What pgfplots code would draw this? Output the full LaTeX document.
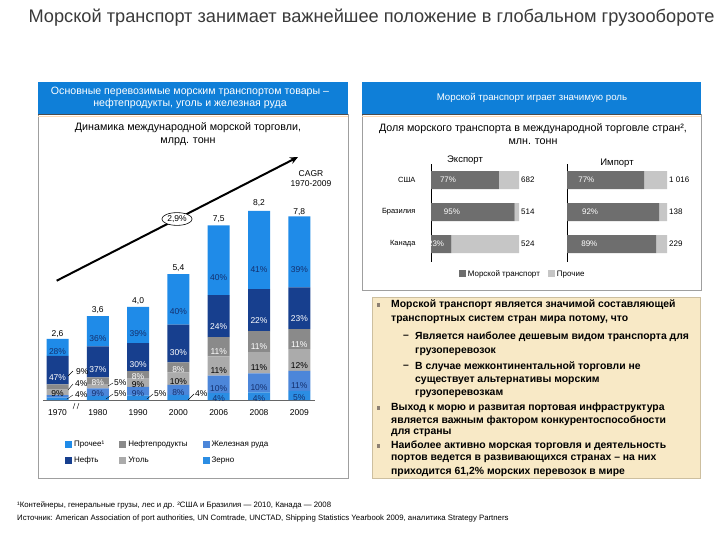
\documentclass[border=0pt]{standalone}
\usepackage{fontspec}
\setmainfont{Liberation Sans}
\usepackage{pgfplots}
\pgfplotsset{compat=1.18}
\usepackage{pgfplotstable}
\usetikzlibrary{arrows.meta,shapes.geometric}

\definecolor{hdrblue}{HTML}{0F7FD8}
\definecolor{cOther}{HTML}{1F8BE8}
\definecolor{cOil}{HTML}{173F8E}
\definecolor{cOilp}{HTML}{8A8A8A}
\definecolor{cCoal}{HTML}{ABABAB}
\definecolor{cIron}{HTML}{4C86D9}
\definecolor{cGrain}{HTML}{2B8DE3}
\definecolor{lblnavy}{HTML}{14306E}
\definecolor{seagray}{HTML}{6E6E6E}
\definecolor{othgray}{HTML}{C6C6C6}
\definecolor{beige}{HTML}{F8E9C6}
\definecolor{beigeborder}{HTML}{CDBF9F}
\definecolor{titlegray}{HTML}{3A3A3A}

\pgfplotsset{/pgf/number format/assume math mode=true}

% shares in %, totals in bn t
\pgfplotstableread{
x tot grain iron coal oilp oil other
0 2.6 4 4 9 9 47 28
1 3.6 5 9 5 8 37 36
2 4.0 5 9 9 8 30 39
3 5.4 4 8 10 8 30 40
4 7.5 4 10 11 11 24 40
5 8.2 4 10 11 11 22 41
6 7.8 5 11 12 11 23 39
}\tradedata

\pgfplotstableread{
y sea other tot
2 77 23 682
1 95 5 514
0 23 77 524
}\exportdata

\pgfplotstableread{
y sea other tot
2 77 23 1016
1 92 8 138
0 89 11 229
}\importdata

% the shift below ends up applied twice by nodes near coords, hence 0.25 for half a segment
\pgfplotsset{
  % column, fill, label colour, min. segment height for an inside label
  seg/.style n args={4}{
    fill=#2, draw=none,
    visualization depends on={\thisrow{#1} \as \pct},
    visualization depends on={\thisrow{tot}*\thisrow{#1}*0.233 \as \segpx},
    nodes near coords={\ifdim\segpx pt<#4pt\else\pgfmathprintnumber[fixed,precision=0]{\pct}\%\fi},
    every node near coord/.style={anchor=center, text=#3,
      yshift=-0.25*\segpx pt, inner sep=0pt, font=\fontsize{8.5bp}{9bp}\selectfont},
  },
  sq legend/.style={legend image code/.code={\fill[##1] (0bp,-3.5bp) rectangle (7bp,3.5bp);}},
  % bp per percent
  hseg/.style={
    fill=seagray, draw=none,
    visualization depends on={\thisrow{sea} \as \pct},
    visualization depends on={\thisrow{sea}*#1*0.25 \as \hsh},
    nodes near coords={\pgfmathprintnumber[fixed,precision=0]{\pct}\%},
    every node near coord/.style={anchor=center, text=white,
      xshift=-\hsh pt, font=\fontsize{8bp}{9bp}\selectfont},
  },
  totlabel/.style={draw=none, mark=none, point meta=\thisrow{tot}},
}

\begin{document}
\begin{tikzpicture}[x=1bp,y=-1bp]
\fill[white] (0,0) rectangle (720,540);

% title
\node[text=titlegray, font=\fontsize{18.2bp}{20bp}\selectfont] at (371.5,18)
  {Морской транспорт занимает важнейшее положение в глобальном грузообороте};

% panels
\draw[gray!75, line width=0.7bp] (38,114) rectangle (348,478);
\draw[gray!75, line width=0.7bp] (362,114) rectangle (701,290);
\fill[hdrblue] (38,82) rectangle (348,114);
\fill[hdrblue] (362,82) rectangle (701,114);
\draw[black!70, line width=0.8bp] (38,114) -- (348,114);
\draw[black!70, line width=0.8bp] (362,114) -- (701,114);
\draw[orange!30, line width=0.8bp] (38,116) -- (348,116);
\draw[orange!30, line width=0.8bp] (362,116) -- (701,116);
\node[text=white, align=center, font=\fontsize{10.6bp}{12.5bp}\selectfont] at (190,98)
  {Основные перевозимые морским транспортом товары --\\нефтепродукты, уголь и железная руда};
\node[text=white, font=\fontsize{9.7bp}{11bp}\selectfont] at (532,98)
  {Морской транспорт играет значимую роль};
\node[align=center, font=\fontsize{10.7bp}{13bp}\selectfont] at (188,134.5)
  {Динамика международной морской торговли,\\млрд. тонн};
\node[align=center, font=\fontsize{10.7bp}{13bp}\selectfont] at (533,134.5)
  {Доля морского транспорта в международной торговле стран²,\\млн. тонн};

% left: stacked bars
\begin{axis}[
  at={(43.4bp,-400bp)}, anchor=south west,
  x=40.3bp, y=23.3bp,
  xmin=-0.35, xmax=6.4, ymin=0, ymax=9,
  ybar stacked, bar width=22bp,
  axis x line*=bottom, axis y line=none,
  x axis line style={draw=black!60, line width=0.6bp},
  xtick={0,...,6}, xticklabels={1970,1980,1990,2000,2006,2008,2009},
  major tick length=0pt,
  xticklabel style={font=\fontsize{8.5bp}{9bp}\selectfont, yshift=-6bp},
  clip=false,
  sq legend, reverse legend, transpose legend, legend columns=2,
  legend style={at={(0.068,-0.176)}, anchor=north west, draw=none, fill=none,
    font=\fontsize{8bp}{9bp}\selectfont, legend cell align=left, row sep=4bp,
    /tikz/every even column/.append style={column sep=13bp}},
]
\addplot[seg={grain}{cGrain}{lblnavy}{6}] table[x=x, y expr=\thisrow{tot}*\thisrow{grain}/100] {\tradedata};
\addlegendentry{Зерно}
\addplot[seg={iron}{cIron}{lblnavy}{6}] table[x=x, y expr=\thisrow{tot}*\thisrow{iron}/100] {\tradedata};
\addlegendentry{Железная руда}
\addplot[seg={coal}{cCoal}{black}{5}] table[x=x, y expr=\thisrow{tot}*\thisrow{coal}/100] {\tradedata};
\addlegendentry{Уголь}
\addplot[seg={oilp}{cOilp}{white}{6}] table[x=x, y expr=\thisrow{tot}*\thisrow{oilp}/100] {\tradedata};
\addlegendentry{Нефтепродукты}
\addplot[seg={oil}{cOil}{white}{0}] table[x=x, y expr=\thisrow{tot}*\thisrow{oil}/100] {\tradedata};
\addlegendentry{Нефть}
\addplot[seg={other}{cOther}{lblnavy}{0}] table[x=x, y expr=\thisrow{tot}*\thisrow{other}/100] {\tradedata};
\addlegendentry{Прочее¹}
\end{axis}
% totals above the bars (same geometry, not stacked)
\begin{axis}[
  at={(43.4bp,-400bp)}, anchor=south west,
  x=40.3bp, y=23.3bp, xmin=-0.35, xmax=6.4, ymin=0, ymax=9,
  hide axis, clip=false,
]
\addplot[totlabel,
  nodes near coords={\pgfmathprintnumber[fixed,fixed zerofill,precision=1,use comma]{\pgfplotspointmeta}},
  every node near coord/.style={anchor=south, text=black, inner sep=2bp, font=\fontsize{8.5bp}{9bp}\selectfont}]
  table[x=x, y=tot] {\tradedata};
\end{axis}

% call-outs for thin slices
\begin{scope}[font=\fontsize{8.5bp}{9bp}\selectfont, inner sep=0pt]
\node[anchor=west] at (76,372) {9\%};
\node[anchor=west] at (75,383.5) {4\%};
\node[anchor=west] at (75,395) {4\%};
\draw[black, line width=0.4bp] (68,376) -- (73,371);
\draw[black, line width=0.4bp] (68,390) -- (73,384);
\draw[black, line width=0.4bp] (67,399) -- (73,395);
\draw[black, line width=0.4bp] (73,409) -- (75,403);
\draw[black, line width=0.4bp] (77,409) -- (79,403);
\node[anchor=west] at (114,383) {5\%};
\node[anchor=west] at (114,394) {5\%};
\draw[black, line width=0.4bp] (108,386) -- (113,383);
\draw[black, line width=0.4bp] (106,399) -- (113,394);
\node[anchor=west] at (154,394) {5\%};
\draw[black, line width=0.4bp] (147,399) -- (153,394);
\node[anchor=west] at (195,394) {4\%};
\draw[black, line width=0.4bp] (188,400) -- (194,394);
\end{scope}

% CAGR arrow
\draw[line width=2bp, -{Stealth[length=8bp,width=7bp]}] (56.7,280.7) -- (298,157);
\node[draw, ellipse, fill=white, line width=0.6bp, inner sep=1bp, font=\fontsize{8.5bp}{9bp}\selectfont]
  at (177,219) {2,9\%};
\node[align=center, font=\fontsize{8.5bp}{10bp}\selectfont] at (311,179) {CAGR\\1970-2009};

% right: export
\node[font=\fontsize{9.5bp}{10bp}\selectfont] at (465,160) {Экспорт};
\node[font=\fontsize{9.5bp}{10bp}\selectfont] at (617,163) {Импорт};
\begin{axis}[
  at={(431bp,-261.6bp)}, anchor=south west,
  x=0.88bp, y=32bp, xmin=0, xmax=100, ymin=-0.55, ymax=2.5,
  xbar stacked, bar width=18bp,
  axis x line=none, axis y line*=left,
  y axis line style={black, line width=0.9bp},
  ytick={0,1,2}, yticklabels={Канада,Бразилия,США}, major tick length=0pt,
  yticklabel style={font=\fontsize{7.5bp}{9bp}\selectfont, xshift=-12bp},
  clip=false,
  sq legend, legend columns=2,
  legend style={at={(0.28,-0.127)}, anchor=west, draw=none, fill=none,
    font=\fontsize{8bp}{9bp}\selectfont,
    /tikz/every even column/.append style={column sep=6bp}},
]
\addplot[hseg=0.88] table[x=sea, y=y] {\exportdata};
\addlegendentry{Морской транспорт}
\addplot[fill=othgray, draw=none] table[x=other, y=y] {\exportdata};
\addlegendentry{Прочие}
\end{axis}
\begin{axis}[
  at={(431bp,-261.6bp)}, anchor=south west,
  x=0.88bp, y=32bp, xmin=0, xmax=100, ymin=-0.55, ymax=2.5,
  hide axis, clip=false,
]
\addplot[totlabel,
  nodes near coords={\pgfmathprintnumber[1000 sep={\ }]{\pgfplotspointmeta}},
  every node near coord/.style={anchor=west, text=black, inner sep=2bp, font=\fontsize{8bp}{9bp}\selectfont}]
  table[x expr=\thisrow{sea}+\thisrow{other}, y=y] {\exportdata};
\end{axis}

% right: import
\begin{axis}[
  at={(567bp,-261.6bp)}, anchor=south west,
  x=1bp, y=32bp, xmin=0, xmax=100, ymin=-0.55, ymax=2.5,
  xbar stacked, bar width=18bp,
  axis x line=none, axis y line*=left,
  y axis line style={black, line width=0.9bp},
  ytick=\empty, clip=false,
]
\addplot[hseg=1] table[x=sea, y=y] {\importdata};
\addplot[fill=othgray, draw=none] table[x=other, y=y] {\importdata};
\end{axis}
\begin{axis}[
  at={(567bp,-261.6bp)}, anchor=south west,
  x=1bp, y=32bp, xmin=0, xmax=100, ymin=-0.55, ymax=2.5,
  hide axis, clip=false,
]
\addplot[totlabel,
  nodes near coords={\pgfmathprintnumber[1000 sep={\ }]{\pgfplotspointmeta}},
  every node near coord/.style={anchor=west, text=black, inner sep=2bp, font=\fontsize{8bp}{9bp}\selectfont}]
  table[x expr=\thisrow{sea}+\thisrow{other}, y=y] {\importdata};
\end{axis}

% text box
\filldraw[fill=beige, draw=beigeborder, line width=0.7bp] (372,297) rectangle (700,478);
\begin{scope}[font=\fontsize{10.4bp}{12bp}\selectfont\bfseries, inner sep=0pt]
\foreach \yy in {305,408,446} \fill[gray!80!brown] (376.5,\yy-1.7) rectangle ++(3.4,3.4);
\foreach \yy in {337,367} \node[anchor=west] at (403,\yy) {--};
\node[anchor=west] at (391,305) {Морской транспорт является значимой составляющей};
\node[anchor=west] at (391,320) {транспортных систем стран мира потому, что};
\node[anchor=west] at (415,337) {Является наиболее дешевым видом транспорта для};
\node[anchor=west] at (415,352) {грузоперевозок};
\node[anchor=west] at (415,367) {В случае межконтинентальной торговли не};
\node[anchor=west] at (415,381) {существует альтернативы морским};
\node[anchor=west] at (415,394) {грузоперевозкам};
\node[anchor=west] at (391,408) {Выход к морю и развитая портовая инфраструктура};
\node[anchor=west] at (391,421) {является важным фактором конкурентоспособности};
\node[anchor=west] at (391,433) {для страны};
\node[anchor=west] at (391,446) {Наиболее активно морская торговля и деятельность};
\node[anchor=west] at (391,459) {портов ведется в развивающихся странах -- на них};
\node[anchor=west] at (391,472) {приходится 61,2\% морских перевозок в мире};
\end{scope}

% footnotes
\node[anchor=west, inner sep=0pt, font=\fontsize{7.8bp}{8bp}\selectfont] at (17,505)
  {¹Контейнеры, генеральные грузы, лес и др. ²США и Бразилия --- 2010, Канада --- 2008};
\node[anchor=west, inner sep=0pt, font=\fontsize{7.8bp}{8bp}\selectfont] at (17,518)
  {Источник: American Association of port authorities, UN Comtrade, UNCTAD, Shipping Statistics Yearbook 2009, аналитика Strategy Partners};
\end{tikzpicture}
\end{document}
